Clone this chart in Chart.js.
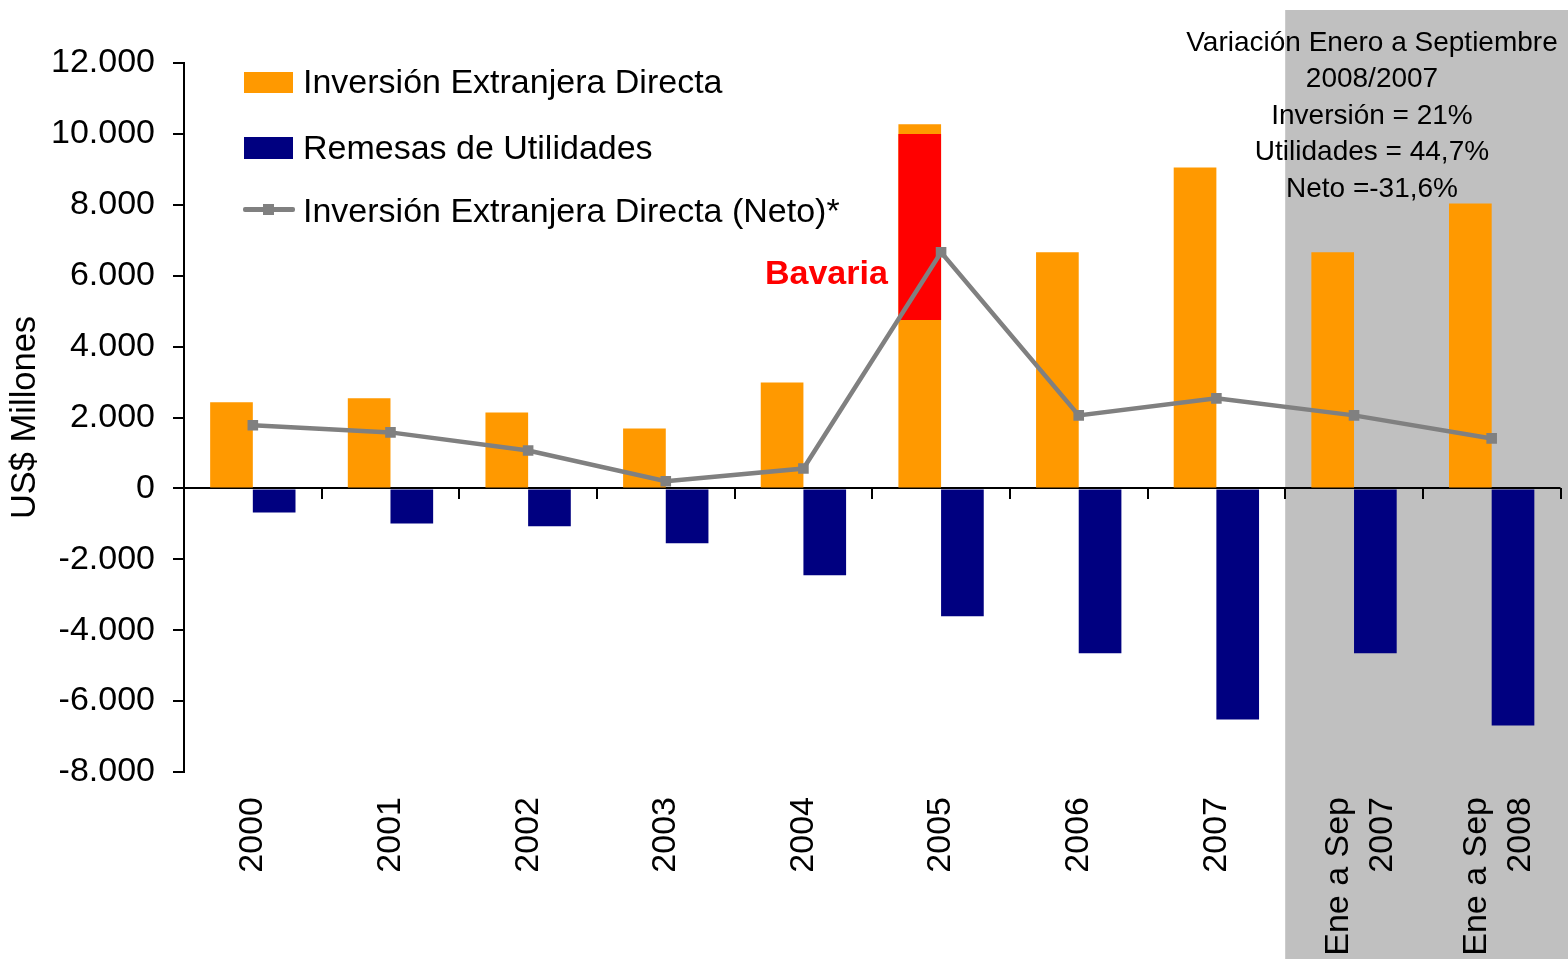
<!DOCTYPE html>
<html>
<head>
<meta charset="utf-8">
<script src="https://cdn.jsdelivr.net/npm/chart.js@4.4.0/dist/chart.umd.min.js"></script>
<style>
  body { margin: 0; background: #fff; }
  #wrap { position: relative; width: 1568px; height: 959px; font-family: 'Liberation Sans', Arial, sans-serif; color: #000; }
  #wrap canvas { position: absolute; left: 0; top: 0; }
  .txt { position: absolute; white-space: nowrap; }
  .leg { font-size: 34px; line-height: 40px; left: 303px; }
  .box { position: absolute; width: 49px; }
  #note { left: 1172px; width: 400px; top: 24px; text-align: center; font-size: 28px; line-height: 36.4px; }
  #bavaria { left: 765px; top: 252px; font-size: 34px; line-height: 40px; font-weight: bold; color: #ff0000; }
</style>
</head>
<body>
<div id="wrap">
  <canvas id="myChart"></canvas>
  <div class="box" style="left:244px; top:72px; height:21px; background:#ff9900;"></div>
  <div class="txt leg" style="top:61px;">Inversión Extranjera Directa</div>
  <div class="box" style="left:244px; top:137px; height:22px; background:#000080;"></div>
  <div class="txt leg" style="top:127px;">Remesas de Utilidades</div>
  <div class="box" style="left:243px; top:207px; width:52px; height:5px; background:#808080; border-radius:2px;"></div>
  <div class="box" style="left:263px; top:204px; width:11px; height:11px; background:#808080;"></div>
  <div class="txt leg" style="top:190px;">Inversión Extranjera Directa (Neto)*</div>
  <div class="txt" id="note">Variación Enero a Septiembre<br>2008/2007<br>Inversión = 21%<br>Utilidades = 44,7%<br>Neto =-31,6%</div>
  <div class="txt" id="bavaria">Bavaria</div>
</div>
<script>
// categories and values (US$ millones)
var categories = ['2000', '2001', '2002', '2003', '2004', '2005', '2006', '2007', ['Ene a Sep', '2007'], ['Ene a Sep', '2008']];
var inversion = [2430, 2540, 2140, 1690, 2990, 10270, 6660, 9050, 6660, 8040];
var remesas = [-680, -990, -1070, -1550, -2450, -3610, -4650, -6520, -4650, -6690];
var neto = [1780, 1580, 1070, 200, 560, 6660, 2060, 2540, 2060, 1410];
var bavaria = [null, null, null, null, null, [4750, 10000], null, null, null, null];

var yMin = -8000;
var yMax = 12000;
var yStep = 2000;

// two-line labels are centred on their column (Chart.js puts the first line on the tick)
var labelShift = 0.11;

Chart.defaults.font.family = "'Liberation Sans', Arial, sans-serif";
Chart.defaults.color = '#000';

function fmt(v) {
  var s = Math.abs(v).toString().replace(/\B(?=(\d{3})+(?!\d))/g, '.');
  return (v < 0 ? '-' : '') + s;
}

// grey band behind the two "Ene a Sep" columns
var shadePlugin = {
  id: 'shade',
  beforeDraw: function(chart) {
    var x = chart.scales.x;
    var left = (x.getPixelForValue(7) + x.getPixelForValue(8)) / 2;
    var ctx = chart.ctx;
    ctx.save();
    ctx.fillStyle = '#c0c0c0';
    ctx.fillRect(left, 10, chart.width - left, chart.height - 10);
    ctx.restore();
  }
};

var ctx = document.getElementById('myChart').getContext('2d');
var myChart = new Chart(ctx, {
  type: 'bar',
  data: {
    labels: categories,
    datasets: [{
      type: 'line',
      label: 'Inversión Extranjera Directa (Neto)*',
      data: neto,
      order: 0,
      borderColor: '#808080',
      borderWidth: 4.5,
      pointStyle: 'rect',
      pointRadius: 7.5,
      pointBackgroundColor: '#808080',
      pointBorderWidth: 0,
      tension: 0
    }, {
      label: 'Bavaria',
      data: bavaria,
      order: 1,
      stack: 'a',
      backgroundColor: '#ff0000'
    }, {
      label: 'Inversión Extranjera Directa',
      data: inversion,
      order: 2,
      stack: 'a',
      backgroundColor: '#ff9900'
    }, {
      label: 'Remesas de Utilidades',
      data: remesas,
      order: 3,
      stack: 'b',
      backgroundColor: '#000080'
    }]
  },
  options: {
    responsive: true,
    maintainAspectRatio: false,
    animation: false,
    barPercentage: 1,
    categoryPercentage: 0.62,
    layout: { padding: { top: 63, left: 0, right: 0, bottom: 0 } },
    scales: {
      x: {
        position: { y: 0 },
        offset: true,
        grid: { offset: true, drawOnChartArea: false, drawTicks: true, tickLength: 11, color: '#000', lineWidth: 2 },
        border: { display: false },
        ticks: { display: false }
      },
      // label axis: same span as the category axis, ticks on column centres
      x2: {
        type: 'linear',
        position: 'bottom',
        offset: false,
        bounds: 'data',
        min: -0.5,
        max: categories.length - 0.5,
        grid: { display: false, drawTicks: false },
        border: { display: false },
        afterBuildTicks: function(s) {
          s.ticks = categories.map(function(c, i) {
            return { value: Array.isArray(c) ? i - labelShift : i };
          });
        },
        afterFit: function(s) {
          s.paddingLeft = 0;
          s.paddingRight = 0;
          s.height = 187;
        },
        ticks: {
          autoSkip: false, maxRotation: 90, minRotation: 90, padding: 25,
          font: { size: 34, lineHeight: 1.3 },
          callback: function(v, i) { return categories[i]; }
        }
      },
      y: {
        min: yMin,
        max: yMax,
        stacked: false,
        afterFit: function(s) { s.width = 184; },
        ticks: { stepSize: yStep, padding: 18, font: { size: 34 }, callback: function(v) { return fmt(v); } },
        grid: {
          color: function(c) { return c.tick && c.tick.value === 0 ? '#000' : 'rgba(0,0,0,0)'; },
          lineWidth: 2,
          tickColor: '#000',
          tickLength: 11
        },
        border: { display: true, color: '#000', width: 2 },
        title: { display: true, text: 'US$ Millones', font: { size: 34.5 }, padding: { top: 5, bottom: 0 } }
      }
    },
    plugins: {
      legend: { display: false },
      tooltip: { enabled: false }
    }
  },
  plugins: [shadePlugin]
});
</script>
</body>
</html>
